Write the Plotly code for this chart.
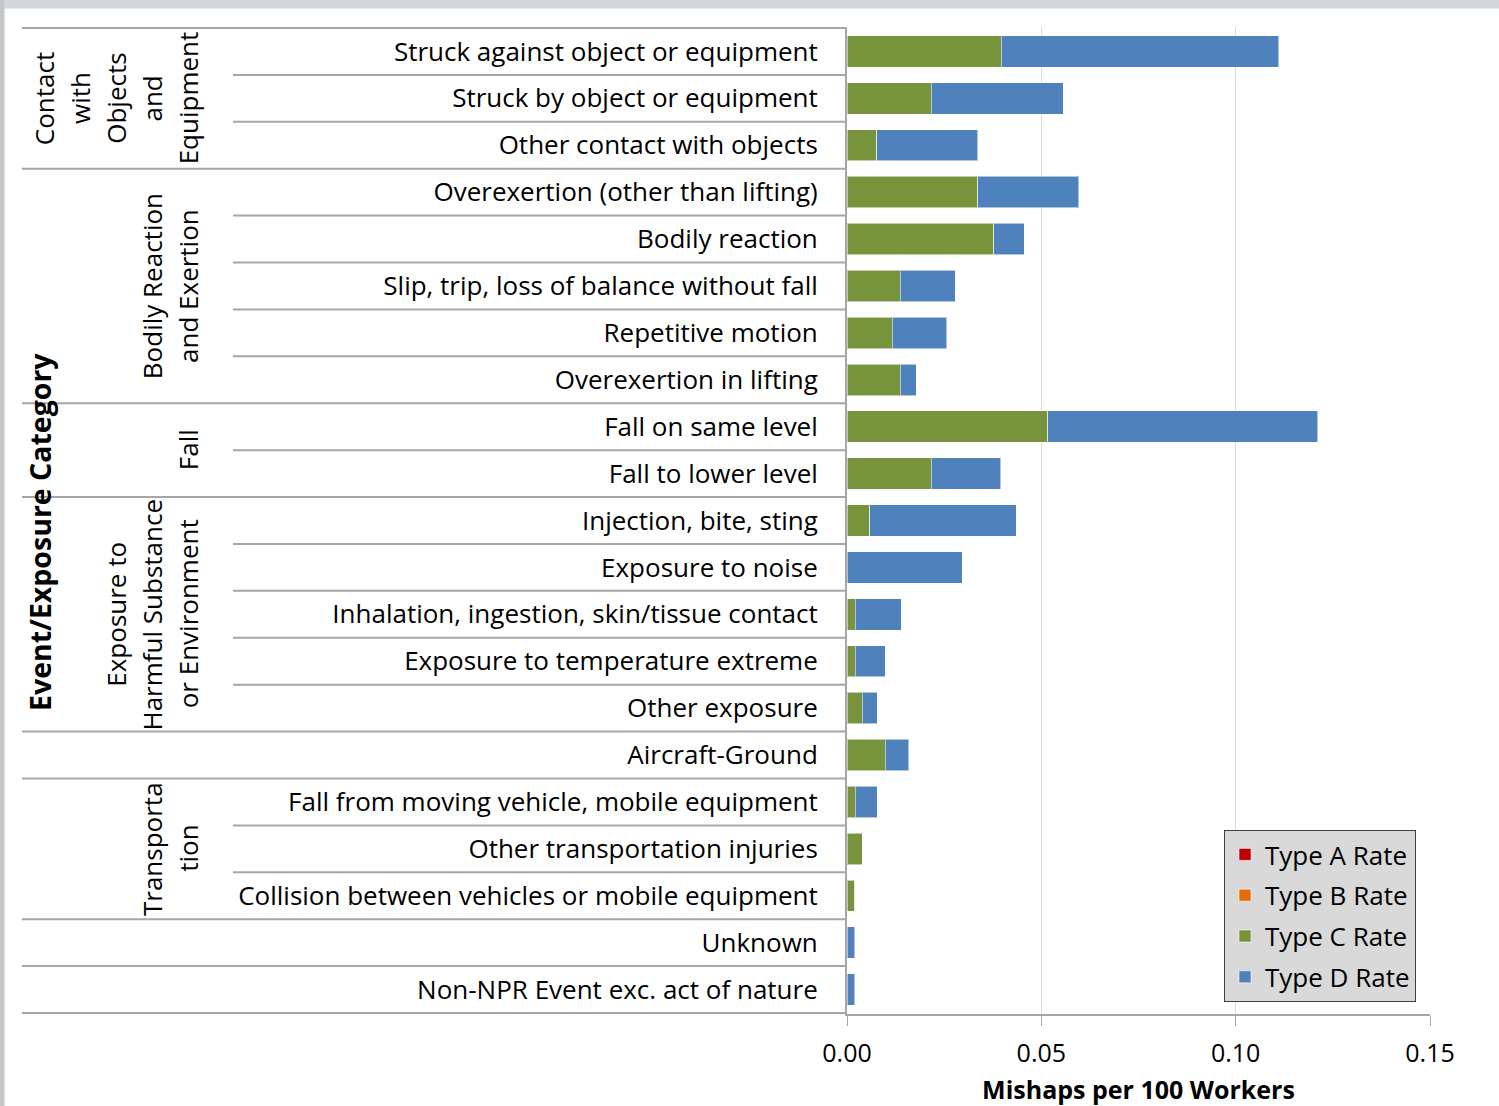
import plotly.graph_objects as go

categories = [
    "Struck against object or equipment",
    "Struck by object or equipment",
    "Other contact with objects",
    "Overexertion (other than lifting)",
    "Bodily reaction",
    "Slip, trip, loss of balance without fall",
    "Repetitive motion",
    "Overexertion in lifting",
    "Fall on same level",
    "Fall to lower level",
    "Injection, bite, sting",
    "Exposure to noise",
    "Inhalation, ingestion, skin/tissue contact",
    "Exposure to temperature extreme",
    "Other exposure",
    "Aircraft-Ground",
    "Fall from moving vehicle, mobile equipment",
    "Other transportation injuries",
    "Collision between vehicles or mobile equipment",
    "Unknown",
    "Non-NPR Event exc. act of nature",
]

type_a = [0.0] * 21
type_b = [0.0] * 21
type_c = [0.0397, 0.0217, 0.0077, 0.0336, 0.0377, 0.0137, 0.0116, 0.0137,
          0.0516, 0.0217, 0.0059, 0.0, 0.0021, 0.0021, 0.0039, 0.0098,
          0.0021, 0.0039, 0.0020, 0.0, 0.0]
type_d = [0.0714, 0.0339, 0.0259, 0.0260, 0.0079, 0.0141, 0.0140, 0.0041,
          0.0695, 0.0179, 0.0377, 0.0296, 0.0118, 0.0078, 0.0039, 0.0061,
          0.0057, 0.0, 0.0, 0.0020, 0.0020]

series_names = ["Type A Rate", "Type B Rate", "Type C Rate", "Type D Rate"]
series_colors = ["#C00000", "#E46C0A", "#77933C", "#4F81BD"]

# groups: (label lines, first row, last row)
groups = [
    (["Contact", "with", "Objects", "and", "Equipment"], 0, 2),
    (["Bodily Reaction", "and Exertion"], 3, 7),
    (["Fall"], 8, 9),
    (["Exposure to", "Harmful Substance", "or Environment"], 10, 14),
    ([], 15, 15),
    (["Transporta", "tion"], 16, 18),
    ([], 19, 19),
    ([], 20, 20),
]

x_ticks = [0.0, 0.05, 0.10, 0.15]

FONT = "Open Sans"
W, H = 1499, 1106
L, R, T, B = 847, 1430, 27, 1014  # plot area in pixels


def px_x(p):
    return (p - L) / (R - L)


def px_y(p):
    return (B - p) / (B - T)


fig = go.Figure()
for name, color, vals in zip(series_names, series_colors, [type_a, type_b, type_c, type_d]):
    fig.add_trace(go.Bar(
        y=categories, x=vals, name=name, orientation="h",
        marker=dict(color=color, line=dict(color="rgba(255,255,255,0.55)", width=1)),
        legendgroup=name,
    ))

shapes = []
line_color = "#A6A6A6"
shapes.append(dict(type="line", xref="paper", yref="y", x0=px_x(22), x1=0,
                   y0=-0.5, y1=-0.5, line=dict(color=line_color, width=2)))
for lines, r0, r1 in groups:
    shapes.append(dict(type="line", xref="paper", yref="y", x0=px_x(22), x1=0,
                       y0=r1 + 0.5, y1=r1 + 0.5, line=dict(color=line_color, width=2)))
    for r in range(r0, r1):
        shapes.append(dict(type="line", xref="paper", yref="y", x0=px_x(233), x1=0,
                           y0=r + 0.5, y1=r + 0.5, line=dict(color=line_color, width=2)))

# background frame strips
shapes.append(dict(type="rect", xref="paper", yref="paper", x0=px_x(0), x1=px_x(W),
                   y0=px_y(0), y1=px_y(8.5), fillcolor="#D5D8DB", line=dict(width=0), layer="below"))
shapes.append(dict(type="rect", xref="paper", yref="paper", x0=px_x(0), x1=px_x(4.5),
                   y0=px_y(0), y1=px_y(H), fillcolor="#C4C8CA", line=dict(width=0), layer="below"))

annotations = []
spacing = 35.8
for lines, r0, r1 in groups:
    n = len(lines)
    for i, t in enumerate(lines):
        xc = 188 - (n - 1 - i) * spacing
        annotations.append(dict(
            text=t, xref="paper", yref="y", x=px_x(xc), y=(r0 + r1) / 2,
            xanchor="center", yanchor="middle", textangle=-90, showarrow=False,
            font=dict(family=FONT, size=26, color="#000000"),
        ))

annotations.append(dict(
    text="<b>Event/Exposure Category</b>", xref="paper", yref="paper",
    x=px_x(40), y=px_y(532), xanchor="center", yanchor="middle", textangle=-90,
    showarrow=False, font=dict(family=FONT, size=28.5, color="#000000"),
))

fig.update_layout(
    width=W, height=H,
    margin=dict(l=L, r=W - R, t=T, b=H - B, pad=0),
    barmode="stack", bargap=0.33,
    paper_bgcolor="white", plot_bgcolor="white",
    font=dict(family=FONT, size=24, color="#000000"),
    shapes=shapes, annotations=annotations,
    showlegend=True,
    legend=dict(
        x=px_x(1224), y=px_y(830), xanchor="left", yanchor="top",
        bgcolor="#D9D9D9", bordercolor="#404040", borderwidth=1,
        font=dict(family=FONT, size=26, color="#000000"),
        traceorder="grouped", tracegroupgap=4, itemclick=False,
    ),
    xaxis=dict(
        range=[0, 0.15], tickvals=x_ticks, tickformat=".2f",
        showgrid=True, gridcolor="#D9D9D9", gridwidth=1,
        showline=True, linecolor=line_color, linewidth=2,
        ticks="outside", ticklen=10, tickcolor=line_color, tickwidth=1,
        ticklabelstandoff=6, automargin=False,
        tickfont=dict(family=FONT, size=25, color="#000000"),
        zeroline=False,
        title=dict(text="<b>Mishaps per 100 Workers</b>", standoff=13,
                   font=dict(family=FONT, size=25, color="#000000")),
    ),
    yaxis=dict(
        categoryorder="array", categoryarray=categories, autorange="reversed",
        showline=True, linecolor=line_color, linewidth=2, automargin=False,
        ticks="", ticklabelstandoff=22, showgrid=False, zeroline=False,
        tickfont=dict(family=FONT, size=26, color="#000000"),
    ),
)

fig.write_html("out.html")
